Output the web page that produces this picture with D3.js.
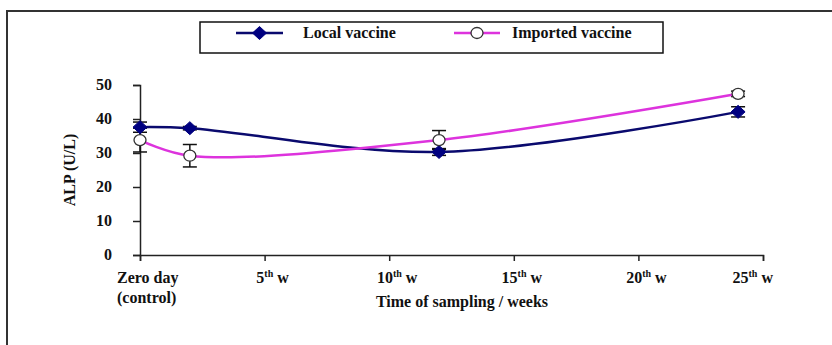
<!DOCTYPE html>
<html>
<head>
<meta charset="utf-8">
<script src="https://cdn.jsdelivr.net/npm/d3@7"></script>
<style>
  html, body { margin: 0; padding: 0; background: #fff; }
  svg { display: block; }
</style>
</head>
<body>
<svg id="chart" width="832" height="345" font-family="'Liberation Serif', 'Times New Roman', 'DejaVu Serif', serif" font-weight="bold"></svg>
<script>
// ---- data ----
const weeks = [0, 2, 12, 24];
const localValues = [37.6, 37.3, 30.3, 42.1];
const localErrors = [1.5, 0.5, 1.0, 1.5];
const importedValues = [33.8, 29.2, 33.8, 47.4];
const importedErrors = [3.5, 3.3, 2.8, 0.8];
const seriesNames = ["Local vaccine", "Imported vaccine"];
const yTicks = [0, 10, 20, 30, 40, 50];
const xTickWeeks = [0, 5, 10, 15, 20, 25];
const xTickLabels = [["Zero day", "(control)"], ["5", "th", " w"], ["10", "th", " w"], ["15", "th", " w"], ["20", "th", " w"], ["25", "th", " w"]];
const xTitle = "Time of sampling / weeks";
const yTitle = "ALP (U/L)";

// ---- layout ----
const svg = d3.select("#chart");
const x = d3.scaleLinear().domain([0, 25]).range([140, 763]);
const y = d3.scaleLinear().domain([0, 50]).range([255, 85]);
const localColor = "#0a0a6e";
const importedColor = "#dd33dd";
const textColor = "#111";

// outer frame (top and left edges visible)
svg.append("path")
  .attr("d", "M7,345 L7,11 L832,11")
  .attr("fill", "none").attr("stroke", "#333").attr("stroke-width", 2);

// axes
const yAxis = svg.append("g").attr("transform", `translate(${x(0)},0)`)
  .call(d3.axisLeft(y).tickValues(yTicks).tickSize(7).tickFormat(""));
const xAxis = svg.append("g").attr("transform", `translate(0,${y(0)})`)
  .call(d3.axisBottom(x).tickValues(xTickWeeks).tickSize(6).tickFormat(""));
[yAxis, xAxis].forEach(g => {
  g.attr("font-family", null);
  g.selectAll("path.domain").attr("stroke", "#222").attr("stroke-width", 1.5);
  g.selectAll(".tick line").attr("stroke", "#222").attr("stroke-width", 1.5);
});

// y tick labels
svg.append("g").selectAll("text").data(yTicks).join("text")
  .attr("x", x(0) - 28).attr("y", d => y(d) + 5)
  .attr("text-anchor", "end").attr("font-size", 16).attr("fill", textColor)
  .text(d => d);

// x tick labels
xTickWeeks.forEach((w, i) => {
  const lab = xTickLabels[i];
  const last = i === xTickWeeks.length - 1;
  const t = svg.append("text")
    .attr("y", 283).attr("font-size", 16).attr("fill", textColor);
  if (i === 0) {
    t.attr("x", x(w) - 23).attr("text-anchor", "start");
    t.append("tspan").attr("x", x(w) - 23).attr("y", 283).text(lab[0]);
    t.append("tspan").attr("x", x(w) - 23).attr("y", 303).text(lab[1]);
  } else {
    t.attr("x", last ? x(w) + 10 : x(w) + 8).attr("text-anchor", last ? "end" : "middle");
    t.append("tspan").text(lab[0]);
    t.append("tspan").attr("font-size", 10).attr("dy", -6).text(lab[1]);
    t.append("tspan").attr("dy", 6).text(lab[2]);
  }
});

// axis titles
svg.append("text").attr("x", 462).attr("y", 307)
  .attr("text-anchor", "middle").attr("font-size", 16).attr("fill", textColor).text(xTitle);
svg.append("text")
  .attr("transform", `translate(75,${(y(0) + y(50)) / 2}) rotate(-90)`)
  .attr("text-anchor", "middle").attr("font-size", 16).attr("fill", textColor).text(yTitle);

// series
const series = [
  { name: seriesNames[0], values: localValues, errors: localErrors, color: localColor, marker: "diamond" },
  { name: seriesNames[1], values: importedValues, errors: importedErrors, color: importedColor, marker: "circle" }
];

const line = d3.line().x(d => x(d.w)).y(d => y(d.v)).curve(d3.curveCatmullRom.alpha(0.5));

// error bars
series.forEach(s => {
  const g = svg.append("g");
  weeks.forEach((w, i) => {
    const cx = x(w), lo = y(s.values[i] - s.errors[i]), hi = y(s.values[i] + s.errors[i]);
    g.append("line").attr("x1", cx).attr("x2", cx).attr("y1", lo).attr("y2", hi)
      .attr("stroke", "#111").attr("stroke-width", 1.5);
    [lo, hi].forEach(yy => g.append("line").attr("x1", cx - 7).attr("x2", cx + 7)
      .attr("y1", yy).attr("y2", yy).attr("stroke", "#111").attr("stroke-width", 1.5));
  });
});

// lines
series.forEach(s => {
  svg.append("path")
    .datum(weeks.map((w, i) => ({ w, v: s.values[i] })))
    .attr("d", line).attr("fill", "none")
    .attr("stroke", s.color).attr("stroke-width", 2.5);
});

// markers
function drawMarker(g, s, cx, cy) {
  if (s.marker === "diamond") {
    g.append("path").attr("d", "M0,-6.5 L7,0 L0,6.5 L-7,0 Z").attr("transform", `translate(${cx},${cy})`)
      .attr("fill", "#000080").attr("stroke", "#000080").attr("stroke-width", 1);
  } else {
    g.append("ellipse").attr("cx", cx).attr("cy", cy).attr("rx", 6).attr("ry", 5.5)
      .attr("fill", "#fff").attr("stroke", "#333").attr("stroke-width", 1.3);
  }
}
series.forEach(s => {
  const g = svg.append("g");
  weeks.forEach((w, i) => drawMarker(g, s, x(w), y(s.values[i])));
});

// legend
const lg = svg.append("g");
lg.append("rect").attr("x", 200).attr("y", 22).attr("width", 463).attr("height", 31)
  .attr("fill", "#fff").attr("stroke", "#111").attr("stroke-width", 1.5);
const legendItems = [
  { s: series[0], x0: 236, x1: 283, tx: 303 },
  { s: series[1], x0: 454, x1: 500, tx: 512 }
];
legendItems.forEach(it => {
  lg.append("line").attr("x1", it.x0).attr("x2", it.x1).attr("y1", 33).attr("y2", 33)
    .attr("stroke", it.s.color).attr("stroke-width", 2.5);
  drawMarker(lg, it.s, (it.x0 + it.x1) / 2, 33);
  lg.append("text").attr("x", it.tx).attr("y", 38).attr("font-size", 16).attr("fill", textColor).text(it.s.name);
});
</script>
</body>
</html>
